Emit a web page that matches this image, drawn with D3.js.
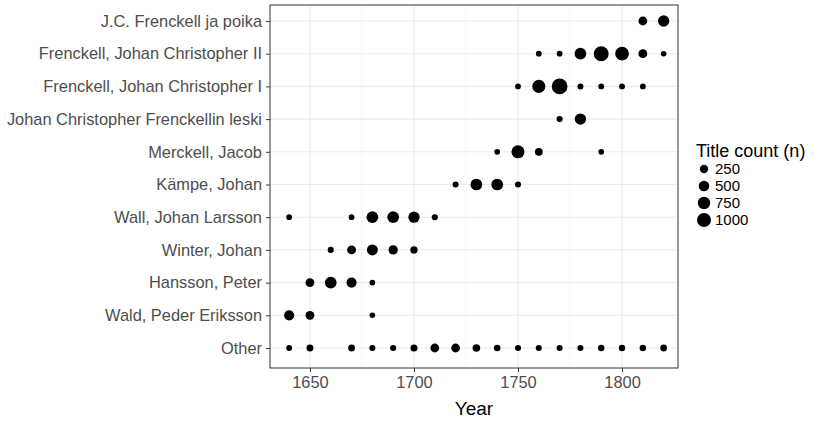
<!DOCTYPE html>
<html>
<head>
<meta charset="utf-8">
<script src="https://cdn.jsdelivr.net/npm/d3@7"></script>
<style>
  body { margin: 0; background: #fff; font-family: "Liberation Sans", Arial, sans-serif; }
</style>
</head>
<body>
<div id="graf"></div>
<script>
const publishers = [
  'J.C. Frenckell ja poika',
  'Frenckell, Johan Christopher II',
  'Frenckell, Johan Christopher I',
  'Johan Christopher Frenckellin leski',
  'Merckell, Jacob',
  'Kämpe, Johan',
  'Wall, Johan Larsson',
  'Winter, Johan',
  'Hansson, Peter',
  'Wald, Peder Eriksson',
  'Other',
]

// [publisher, decade, title count]
const counts = [
  ['J.C. Frenckell ja poika', 1810, 300], ['J.C. Frenckell ja poika', 1820, 600],
  ['Frenckell, Johan Christopher II', 1760, 30], ['Frenckell, Johan Christopher II', 1770, 30],
  ['Frenckell, Johan Christopher II', 1780, 650], ['Frenckell, Johan Christopher II', 1790, 1150],
  ['Frenckell, Johan Christopher II', 1800, 950], ['Frenckell, Johan Christopher II', 1810, 300],
  ['Frenckell, Johan Christopher II', 1820, 20],
  ['Frenckell, Johan Christopher I', 1750, 30], ['Frenckell, Johan Christopher I', 1760, 850],
  ['Frenckell, Johan Christopher I', 1770, 1300], ['Frenckell, Johan Christopher I', 1780, 50],
  ['Frenckell, Johan Christopher I', 1790, 40], ['Frenckell, Johan Christopher I', 1800, 40],
  ['Frenckell, Johan Christopher I', 1810, 40],
  ['Johan Christopher Frenckellin leski', 1770, 60], ['Johan Christopher Frenckellin leski', 1780, 600],
  ['Merckell, Jacob', 1740, 30], ['Merckell, Jacob', 1750, 850], ['Merckell, Jacob', 1760, 200],
  ['Merckell, Jacob', 1790, 30],
  ['Kämpe, Johan', 1720, 50], ['Kämpe, Johan', 1730, 650], ['Kämpe, Johan', 1740, 650],
  ['Kämpe, Johan', 1750, 60],
  ['Wall, Johan Larsson', 1640, 30], ['Wall, Johan Larsson', 1670, 30], ['Wall, Johan Larsson', 1680, 650],
  ['Wall, Johan Larsson', 1690, 650], ['Wall, Johan Larsson', 1700, 600], ['Wall, Johan Larsson', 1710, 60],
  ['Winter, Johan', 1660, 60], ['Winter, Johan', 1670, 300], ['Winter, Johan', 1680, 550],
  ['Winter, Johan', 1690, 350], ['Winter, Johan', 1700, 150],
  ['Hansson, Peter', 1650, 300], ['Hansson, Peter', 1660, 650], ['Hansson, Peter', 1670, 450],
  ['Hansson, Peter', 1680, 30],
  ['Wald, Peder Eriksson', 1640, 450], ['Wald, Peder Eriksson', 1650, 300], ['Wald, Peder Eriksson', 1680, 20],
  ['Other', 1640, 40], ['Other', 1650, 120], ['Other', 1670, 120], ['Other', 1680, 60],
  ['Other', 1690, 60], ['Other', 1700, 130], ['Other', 1710, 300], ['Other', 1720, 300],
  ['Other', 1730, 180], ['Other', 1740, 100], ['Other', 1750, 60], ['Other', 1760, 60],
  ['Other', 1770, 60], ['Other', 1780, 60], ['Other', 1790, 80], ['Other', 1800, 80],
  ['Other', 1810, 80], ['Other', 1820, 110],
]

const xTicks = [1650, 1700, 1750, 1800]
const legendValues = [250, 500, 750, 1000]

const svg = d3.select('#graf').append('svg').attr('width', 833).attr('height', 424)

const margin = { top: 5, left: 270, right: 155, bottom: 56 }
const ancho = 833 - margin.left - margin.right
const alto = 424 - margin.top - margin.bottom

const g = svg.append('g').attr('transform', `translate(${margin.left}, ${margin.top})`)

const x = d3.scaleLinear().domain([1630.8, 1826.9]).range([0, ancho])
const y = d3.scalePoint().domain(publishers).range([16, alto - 20])
const r = d3.scaleRadial().domain([10, 1000]).range([2.7, 7])

// grid
g.selectAll('.minor')
  .data([1675, 1725, 1775, 1825].filter((d) => x(d) < ancho))
  .enter().append('line')
  .attr('x1', (d) => x(d)).attr('x2', (d) => x(d))
  .attr('y1', 0).attr('y2', alto)
  .attr('stroke', '#f2f2f2').attr('stroke-width', 0.6)
g.selectAll('.majx')
  .data(xTicks).enter().append('line')
  .attr('x1', (d) => x(d)).attr('x2', (d) => x(d))
  .attr('y1', 0).attr('y2', alto)
  .attr('stroke', '#ebebeb').attr('stroke-width', 1.1)
g.selectAll('.majy')
  .data(publishers).enter().append('line')
  .attr('x1', 0).attr('x2', ancho)
  .attr('y1', (d) => y(d)).attr('y2', (d) => y(d))
  .attr('stroke', '#ebebeb').attr('stroke-width', 1.1)

g.selectAll('circle')
  .data(counts).enter().append('circle')
  .attr('cx', (d) => x(d[1]))
  .attr('cy', (d) => y(d[0]))
  .attr('r', (d) => r(d[2]))
  .attr('fill', '#000')

g.append('rect')
  .attr('width', ancho).attr('height', alto)
  .attr('fill', 'none').attr('stroke', '#333').attr('stroke-width', 1)

const ejeX = g.append('g')
  .attr('transform', `translate(0, ${alto})`)
  .call(d3.axisBottom(x).tickValues(xTicks).tickFormat(d3.format('d')).tickSize(4).tickPadding(4))
const ejeY = g.append('g')
  .call(d3.axisLeft(y).tickSize(4).tickPadding(4))
;[ejeX, ejeY].forEach((e) => {
  e.select('.domain').remove()
  e.selectAll('line').attr('stroke', '#333')
  e.selectAll('text').attr('fill', '#4d4d4d').style('font-size', '16.4px')
    .style('font-family', '"Liberation Sans", Arial, sans-serif')
})

g.append('text')
  .attr('x', ancho / 2).attr('y', alto + 47)
  .attr('text-anchor', 'middle')
  .style('font-size', '19px').text('Year')

const leg = svg.append('g').attr('transform', 'translate(696, 0)')
leg.append('text').attr('x', 0).attr('y', 157).style('font-size', '18px').text('Title count (n)')
legendValues.forEach((v, i) => {
  const cy = 169 + i * 17
  leg.append('circle').attr('cx', 8).attr('cy', cy).attr('r', r(v)).attr('fill', '#000')
  leg.append('text').attr('x', 19).attr('y', cy + 5).style('font-size', '15px').text(v)
})
</script>
</body>
</html>
